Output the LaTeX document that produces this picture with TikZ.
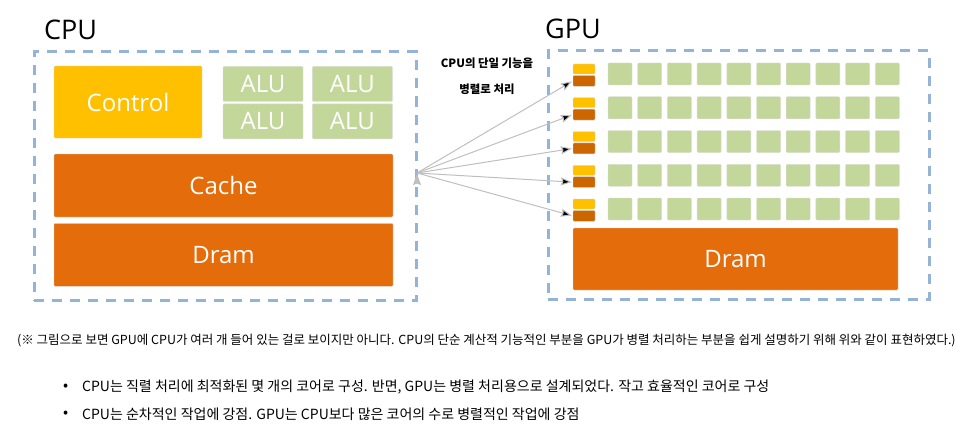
\documentclass[tikz,border=0pt]{standalone}
\usepackage{fontspec}
\setmainfont{Noto Sans CJK KR}
\newfontfamily\boxfont{Open Sans}
\usepackage{tikz}
\usetikzlibrary{arrows.meta}
\usetikzlibrary{positioning}
\definecolor{ctrlyellow}{HTML}{FFC000}
\definecolor{cacheorange}{HTML}{E46C0A}
\definecolor{coreorange}{HTML}{CC6600}
\definecolor{alugreen}{HTML}{C4D79B}
\definecolor{framblue}{HTML}{95B3D7}
\definecolor{arrowgray}{HTML}{BFBFBF}

\begin{document}
\begin{tikzpicture}[x=1pt,y=-1pt,>={Stealth[length=11pt,width=8pt,inset=1.5pt]},
	frame node/.style={rectangle,draw=framblue,line width=3pt,dash pattern=on 10pt off 8pt,inner sep=0pt},
	title node/.style={font=\boxfont\fontsize{27}{27}\selectfont,anchor=base west,inner sep=0pt},
	block node/.style={rectangle,draw=white!85!black,line width=0.4pt,rounded corners=1pt,inner sep=0pt,text=white,font=\boxfont\fontsize{24}{24}\selectfont},
	ctrl node/.style={block node,fill=ctrlyellow},
	mem node/.style={block node,fill=cacheorange,minimum width=339pt,minimum height=63pt},
	alu node/.style={block node,fill=alugreen,minimum width=80pt,minimum height=35pt},
	core node/.style={block node,fill=alugreen,minimum width=24pt,minimum height=22pt},
	small node/.style={block node,minimum width=22pt},
	note node/.style={font=\fontsize{12.5}{12.5}\selectfont,anchor=west,inner sep=0pt},
	item node/.style={font=\fontsize{14}{14}\selectfont,anchor=west,inner sep=0pt}]
		\useasboundingbox (0,0) rectangle (957,425);

		% CPU side
		\node[frame node, minimum width=382pt, minimum height=248.5pt] (cpu) at (225,176.25) {};
		\node[title node] (cpu title) at (44,40) {CPU};
		\node[ctrl node, minimum width=148pt, minimum height=72pt] (control) at (128,102) {Control};
		\node[alu node] (alu1) at (263,84) {ALU};
		\node[alu node] (alu2) [right=9pt of alu1] {ALU};
		\node[alu node] (alu3) [below=2pt of alu1] {ALU};
		\node[alu node] (alu4) [below=2pt of alu2] {ALU};
		\node[mem node] (cache) at (223.5,185.5) {Cache};
		\node[mem node] (dram) [below=6pt of cache] {Dram};
		\coordinate (cpu out) at (417,173);

		% GPU side
		\node[frame node, minimum width=381pt, minimum height=248pt] (gpu) at (738.5,175) {};
		\node[title node] (gpu title) at (545,39) {GPU};
		\foreach \i in {1,...,5} {
			\node[small node, fill=ctrlyellow, minimum height=10pt] (yc\i) at (584,{69+33.75*(\i-1)}) {};
			\node[small node, fill=coreorange, minimum height=11pt] (oc\i) [below=1pt of yc\i] {};
			\foreach \j in {0,...,9}
				\node[core node] (core\i_\j) at ({620+29.7*\j},{74+33.75*(\i-1)}) {};
		}
		\node[block node, fill=cacheorange, minimum width=325pt, minimum height=62pt] (gdram) at (735.5,259) {Dram};

		% arrows
		\node[font=\bfseries\fontsize{11.4}{11.4}\selectfont] (par1) at (487,63) {CPU의 단일 기능을};
		\node[font=\bfseries\fontsize{11.4}{11.4}\selectfont] (par2) at (487,89) {병렬로 처리};
		\path[->, draw=arrowgray, line width=1pt, shorten >=1pt]
			(cpu out) edge (oc1.west)
				edge (oc2.west)
				edge (oc3.west)
				edge (oc4.west)
				edge (oc5.west);

		% notes
		\node[note node] (note) at (17,341) {(※ 그림으로 보면 GPU에 CPU가 여러 개 들어 있는 걸로 보이지만 아니다. CPU의 단순 계산적 기능적인 부분을 GPU가 병렬 처리하는 부분을 쉽게 설명하기 위해 위와 같이 표현하였다.)};
		\node[item node, font=\fontsize{15}{15}\selectfont] (dot1) at (63,387) {•};
		\node[item node, font=\fontsize{15}{15}\selectfont] (dot2) at (63,414) {•};
		\node[item node] (item1) at (82,387) {CPU는 직렬 처리에 최적화된 몇 개의 코어로 구성. 반면, GPU는 병렬 처리용으로 설계되었다. 작고 효율적인 코어로 구성};
		\node[item node] (item2) at (82,414) {CPU는 순차적인 작업에 강점. GPU는 CPU보다 많은 코어의 수로 병렬적인 작업에 강점};
\end{tikzpicture}
\end{document}
